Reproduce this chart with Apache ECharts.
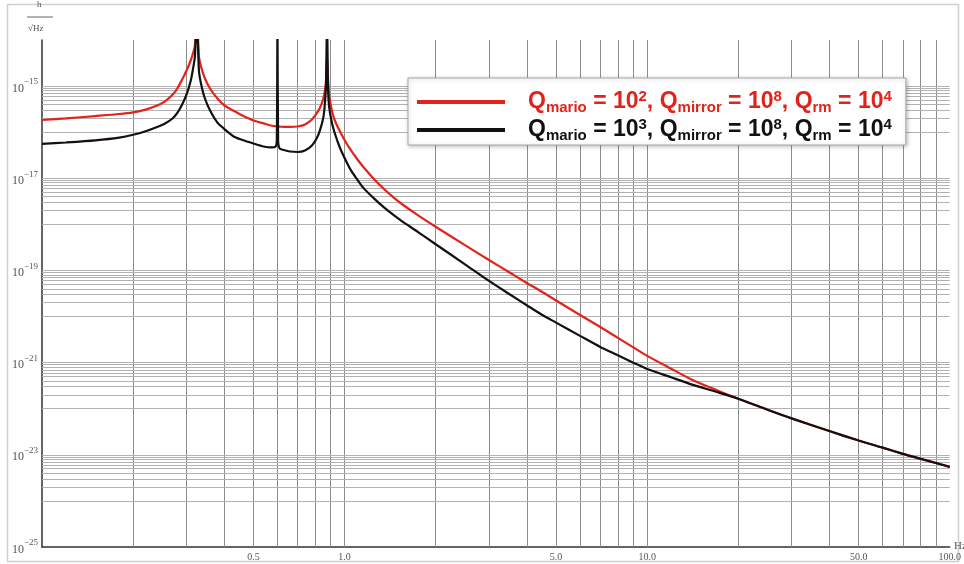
<!DOCTYPE html>
<html><head><meta charset="utf-8">
<script src="https://cdn.jsdelivr.net/npm/echarts@6/dist/echarts.min.js"></script>
<style>html,body{margin:0;padding:0;background:#fff}#c{width:964px;height:564px}</style>
</head><body><div id="c"></div>
<script>
// frequency (Hz)
const freq = [0.1, 0.12, 0.15, 0.18, 0.2, 0.22, 0.24, 0.255, 0.27, 0.28,
  0.29, 0.30, 0.31, 0.315, 0.32, 0.325, 0.33, 0.335, 0.345, 0.36,
  0.38, 0.40, 0.43, 0.46, 0.50, 0.54, 0.57, 0.59, 0.597, 0.60,
  0.603, 0.61, 0.63, 0.66, 0.70, 0.74, 0.78, 0.81, 0.83, 0.85,
  0.86, 0.868, 0.875, 0.882, 0.89, 0.91, 0.93, 0.96,
  1.0, 1.05, 1.1, 1.15, 1.25, 1.35, 1.45, 1.55, 1.75, 2.0,
  2.5, 3.0, 3.5, 4.0, 4.5, 5, 6, 7, 8, 9,
  10, 12, 14, 17, 20, 25, 30, 40, 50, 60,
  70, 80, 90, 100];
// Q_mario = 1e2 (red)
const redVals = [1.84e-16, 1.99e-16, 2.24e-16, 2.48e-16, 2.70e-16, 3.09e-16, 3.78e-16, 4.68e-16, 6.47e-16, 8.87e-16,
  1.36e-15, 2.13e-15, 3.59e-15, 4.97e-15, 7.41e-15, 3e-14, 4.50e-15, 2.73e-15, 1.50e-15, 8.65e-16,
  5.38e-16, 3.84e-16, 2.91e-16, 2.29e-16, 1.79e-16, 1.55e-16, 1.40e-16, 1.35e-16, 1.34e-16, 1.33e-16,
  1.32e-16, 1.32e-16, 1.30e-16, 1.30e-16, 1.33e-16, 1.47e-16, 1.88e-16, 2.61e-16, 3.44e-16, 5.25e-16,
  7.45e-16, 1.23e-15, 4.73e-15, 1.36e-15, 6.10e-16, 2.74e-16, 1.75e-16, 1.12e-16,
  6.78e-17, 4.01e-17, 2.62e-17, 1.80e-17, 9.66e-18, 5.83e-18, 3.85e-18, 2.73e-18, 1.57e-18, 8.87e-19,
  3.54e-19, 1.69e-19, 9.14e-20, 5.36e-20, 3.42e-20, 2.23e-20, 1.08e-20, 5.94e-21, 3.45e-21, 2.14e-21,
  1.40e-21, 7.38e-22, 4.33e-22, 2.52e-22, 1.64e-22, 9.51e-23, 6.17e-23, 3.28e-23, 2.04e-23, 1.43e-23,
  1.05e-23, 8.22e-24, 6.64e-24, 5.47e-24];
// Q_mario = 1e3 (black)
const blackVals = [5.55e-17, 5.98e-17, 6.67e-17, 7.64e-17, 8.79e-17, 1.05e-16, 1.30e-16, 1.55e-16, 1.98e-16, 2.61e-16,
  3.89e-16, 6.41e-16, 1.29e-15, 2.23e-15, 4.28e-15, 3e-14, 2.23e-15, 1.17e-15, 5.52e-16, 2.88e-16,
  1.61e-16, 1.18e-16, 8.07e-17, 6.78e-17, 5.69e-17, 4.90e-17, 4.66e-17, 4.78e-17, 6.78e-17, 3e-14,
  6.78e-17, 4.43e-17, 4.11e-17, 3.81e-17, 3.72e-17, 4.01e-17, 5.14e-17, 7.48e-17, 1.12e-16, 2.03e-16,
  3.89e-16, 1.06e-15, 3e-14, 8.22e-16, 3.35e-16, 1.51e-16, 9.14e-17, 5.02e-17,
  2.75e-17, 1.48e-17, 9.51e-18, 6.35e-18, 3.66e-18, 2.33e-18, 1.60e-18, 1.16e-18, 6.81e-19, 3.70e-19,
  1.36e-19, 5.92e-20, 3.08e-20, 1.76e-20, 1.08e-20, 7.38e-21, 3.81e-21, 2.19e-21, 1.45e-21, 1.00e-21,
  7.29e-22, 4.80e-22, 3.38e-22, 2.31e-22, 1.65e-22, 9.51e-23, 6.17e-23, 3.28e-23, 2.04e-23, 1.43e-23,
  1.05e-23, 8.22e-24, 6.64e-24, 5.47e-24];

const seriesNames = ['red', 'black'];
const legendTexts = {
  red: ['Q', 'mario', ' = 10', '2', ', Q', 'mirror', ' = 10', '8', ', Q', 'rm', ' = 10', '4'],
  black: ['Q', 'mario', ' = 10', '3', ', Q', 'mirror', ' = 10', '8', ', Q', 'rm', ' = 10', '4']
};
const xRange = [0.1, 100];
const yRange = [1e-25, 1e-14];
const xLabelValues = [0.5, 1, 5, 10, 50, 100];
const yLabelValues = [1e-25, 1e-23, 1e-21, 1e-19, 1e-17, 1e-15];
const xGridDecades = [0.1, 1, 10];
const xGridMultipliers = [2, 3, 4, 5, 6, 7, 8, 9, 10];
const yGridDecades = [1e-24, 1e-22, 1e-20, 1e-18, 1e-16];
const yGridMultipliers = [1, 2, 3, 4, 5, 6, 7, 8, 9, 10];

const gridLines = [];
xGridDecades.forEach(d => xGridMultipliers.forEach(m => {
  const v = +(d * m).toPrecision(3);
  if (v < 100) gridLines.push([
    { coord: [v, yRange[0]], lineStyle: { color: '#8c8c8c', width: 1, type: 'solid' } },
    { coord: [v, yRange[1]] }
  ]);
}));
yGridDecades.forEach(d => yGridMultipliers.forEach(m => {
  const v = +(d * m).toPrecision(3);
  gridLines.push([
    { coord: [xRange[0], v], lineStyle: { color: '#b2b2b2', width: 1, type: 'solid' } },
    { coord: [xRange[1], v] }
  ]);
}));

function legendFmt(name) {
  const p = legendTexts[name];
  const c = name === 'red' ? 'r' : 'k';
  let s = '{gap|}';
  p.forEach((t, i) => {
    const kind = (i % 4 === 1) ? 'sub' : (i % 4 === 3) ? 'sup' : 'm';
    s += '{' + c + kind + '|' + t + '}';
  });
  return s;
}
const fam = 'Liberation Sans';
const RED = '#e2231a', BLK = '#111111';
function richSet(col) {
  return {
    m: { fontSize: 23, fontWeight: 'bold', fontFamily: fam, color: col, lineHeight: 26, verticalAlign: 'middle' },
    sub: { fontSize: 15, fontWeight: 'bold', fontFamily: fam, color: col, lineHeight: 14, verticalAlign: 'bottom' },
    sup: { fontSize: 15, fontWeight: 'bold', fontFamily: fam, color: col, lineHeight: 14, verticalAlign: 'top' }
  };
}
const rr = richSet(RED), rk = richSet(BLK);

const chart = echarts.init(document.getElementById('c'), null, { renderer: 'canvas' });
chart.setOption({
  animation: false,
  backgroundColor: '#fff',
  grid: { left: 42, right: 14, top: 40, bottom: 17 },
  xAxis: {
    type: 'log', logBase: 10, min: xRange[0], max: xRange[1],
    axisLine: { show: true, onZero: false, lineStyle: { color: '#333', width: 1.5 } },
    axisTick: { show: false },
    splitLine: { show: false },
    axisLabel: {
      customValues: xLabelValues, margin: 5,
      formatter: v => Number(v).toFixed(1),
      color: '#555', fontSize: 10, fontFamily: 'Liberation Serif'
    }
  },
  yAxis: {
    type: 'log', logBase: 10, min: yRange[0], max: yRange[1],
    axisLine: { show: true, onZero: false, lineStyle: { color: '#333', width: 1.5 } },
    axisTick: { show: false },
    splitLine: { show: false },
    axisLabel: {
      customValues: yLabelValues, margin: 4,
      formatter: v => '{b|10}{s|\u2212' + Math.round(-Math.log10(v)) + '}',
      rich: {
        b: { fontSize: 12, color: '#555', fontFamily: 'Liberation Serif', lineHeight: 17, verticalAlign: 'bottom' },
        s: { fontSize: 9, color: '#555', fontFamily: 'Liberation Serif', lineHeight: 10, verticalAlign: 'top' }
      }
    }
  },
  legend: {
    left: 408, top: 78, orient: 'vertical', z: 20,
    padding: [11, 14, 2, 9], itemGap: 2,
    itemWidth: 88, itemHeight: 4, icon: 'rect',
    backgroundColor: '#fff', borderColor: '#a8a8a8', borderWidth: 1,
    shadowBlur: 4, shadowColor: 'rgba(0,0,0,0.25)', shadowOffsetX: 1, shadowOffsetY: 1,
    data: seriesNames,
    formatter: legendFmt,
    textStyle: {
      rich: {
        gap: { width: 18 },
        rm: rr.m, rsub: rr.sub, rsup: rr.sup,
        km: rk.m, ksub: rk.sub, ksup: rk.sup
      }
    },
    selectedMode: false
  },
  graphic: [
    { type: 'rect', shape: { x: 7.5, y: 4.5, width: 951, height: 557 }, style: { fill: 'none', stroke: '#cfcfcf', lineWidth: 1.5 }, silent: true, z: -1 },
    { type: 'text', left: 37, top: 0, style: { text: 'h', fontSize: 9, fontFamily: 'Liberation Serif', fill: '#555' } },
    { type: 'line', shape: { x1: 27, y1: 17, x2: 53, y2: 17 }, style: { stroke: '#666', lineWidth: 1 } },
    { type: 'text', left: 28, top: 24, style: { text: '\u221AHz', fontSize: 9, fontFamily: 'Liberation Serif', fill: '#555' } },
    { type: 'text', left: 954, top: 541, style: { text: 'Hz', fontSize: 11, fontFamily: 'Liberation Serif', fill: '#555' } }
  ],
  series: [
    {
      name: 'grid', type: 'line', data: [], z: 1, silent: true,
      markLine: { z: 1, silent: true, symbol: 'none', animation: false, label: { show: false }, data: gridLines }
    },
    {
      name: 'red', type: 'line', z: 3, showSymbol: false, symbol: 'none',
      smooth: 0.25, clip: true,
      color: RED, lineStyle: { color: RED, width: 2.2 },
      data: freq.map((f, i) => [f, redVals[i]])
    },
    {
      name: 'black', type: 'line', z: 4, showSymbol: false, symbol: 'none',
      smooth: 0.25, clip: true,
      color: BLK, lineStyle: { color: BLK, width: 2.2 },
      data: freq.map((f, i) => [f, blackVals[i]])
    }
  ]
});
</script>
</body></html>
